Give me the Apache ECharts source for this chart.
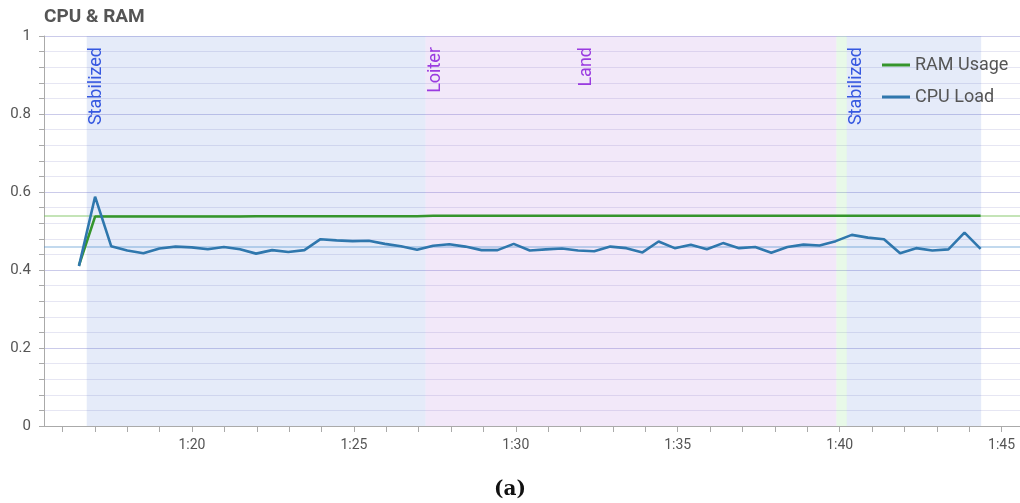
<!DOCTYPE html>
<html>
<head>
<meta charset="utf-8">
<script src="https://cdn.jsdelivr.net/npm/echarts@6/dist/echarts.min.js"></script>
<style>
  html, body { margin: 0; padding: 0; background: #ffffff; }
  #chart { width: 1020px; height: 503px; }
</style>
</head>
<body>
<div id="chart"></div>
<script>
// Samples: one every ~30 s, time in minutes of the log clock
const sampleStartMin = 76.51;
const sampleStepMin = 0.4972;

const cpuLoad = [
  0.41, 0.588, 0.461, 0.45, 0.443, 0.455, 0.46, 0.458, 0.453, 0.459,
  0.453, 0.442, 0.451, 0.446, 0.451, 0.479, 0.476, 0.474, 0.475, 0.467,
  0.461, 0.452, 0.462, 0.466, 0.46, 0.451, 0.451, 0.467, 0.45, 0.453,
  0.455, 0.45, 0.448, 0.46, 0.456, 0.445, 0.473, 0.456, 0.465, 0.453,
  0.469, 0.456, 0.459, 0.444, 0.459, 0.465, 0.463, 0.474, 0.49, 0.483,
  0.479, 0.443, 0.456, 0.45, 0.453, 0.496, 0.454
];

const ramUsage = [
  0.412, 0.537, 0.537, 0.537, 0.537, 0.537, 0.537, 0.537, 0.537, 0.537,
  0.537, 0.538, 0.538, 0.538, 0.538, 0.538, 0.538, 0.538, 0.538, 0.538,
  0.538, 0.538, 0.539, 0.539, 0.539, 0.539, 0.539, 0.539, 0.539, 0.539,
  0.539, 0.539, 0.539, 0.539, 0.539, 0.539, 0.539, 0.539, 0.539, 0.539,
  0.539, 0.539, 0.539, 0.539, 0.539, 0.539, 0.539, 0.539, 0.539, 0.539,
  0.539, 0.539, 0.539, 0.539, 0.539, 0.539, 0.539
];

// Flight-mode bands (minutes)
const bandModes = ['Stabilized', 'Loiter', 'Switch', 'Stabilized'];
const bandStarts = [76.75, 87.21, 99.9, 100.22];
const bandEnds = [87.21, 99.9, 100.22, 104.37];

// Mode-change events (minutes)
const eventNames = ['Stabilized', 'Loiter', 'Land', 'Stabilized'];
const eventTimes = [76.75, 87.21, 91.86, 100.22];

// Axis ticks
const xTickMinutes = [76, 77, 78, 79, 80, 81, 82, 83, 84, 85, 86, 87, 88, 89, 90,
  91, 92, 93, 94, 95, 96, 97, 98, 99, 100, 101, 102, 103, 104, 105];
const xLabelMinutes = [80, 85, 90, 95, 100, 105];
const xLabelTexts = ['1:20', '1:25', '1:30', '1:35', '1:40', '1:45'];
const xMin = 75.43;
const xMax = 105.57;

// ---- styles ----
const bandColors = {
  Stabilized: 'rgba(70,110,210,0.14)',
  Loiter: 'rgba(165,95,215,0.14)',
  Switch: 'rgba(90,210,90,0.14)'
};
const eventColors = {
  Stabilized: '#3658e0',
  Loiter: '#9a3be0',
  Land: '#9a3be0'
};
const font = 'Roboto, "Liberation Sans", Arial, sans-serif';
const lineIcon = 'path://M0,0L28,0L28,3L0,3Z';

const sampleTimes = cpuLoad.map((_, i) => sampleStartMin + i * sampleStepMin);
const cpuData = cpuLoad.map((v, i) => [sampleTimes[i], v]);
const ramData = ramUsage.map((v, i) => [sampleTimes[i], v]);

const bandAreas = bandModes.map((m, i) => [
  { xAxis: bandStarts[i], itemStyle: { color: bandColors[m] } },
  { xAxis: bandEnds[i] }
]);

const eventLines = eventNames.map((n, i) => ({
  xAxis: eventTimes[i],
  lineStyle: { color: 'rgba(0,0,0,0)', width: 1, type: 'solid' },
  label: {
    show: true,
    formatter: n,
    position: 'insideEndBottom',
    distance: [11, 1],
    color: eventColors[n],
    fontSize: 18,
    fontFamily: font
  }
}));

const chart = echarts.init(document.getElementById('chart'), null, { renderer: 'canvas' });

chart.setOption({
  animation: false,
  textStyle: { fontFamily: font },
  title: [
    {
      text: 'CPU & RAM',
      left: 39,
      top: 3,
      textStyle: { fontSize: 19, fontWeight: 'bold', color: '#555555', fontFamily: font }
    },
    {
      text: '(a)',
      left: 'center',
      top: 475,
      textStyle: { fontSize: 20, fontWeight: 'bold', color: '#111111', fontFamily: '"DejaVu Serif", "Liberation Serif", serif' }
    }
  ],
  legend: {
    data: [
      { name: 'RAM Usage', icon: lineIcon },
      { name: 'CPU Load', icon: lineIcon }
    ],
    orient: 'vertical',
    left: 882,
    top: 55,
    itemWidth: 28,
    itemHeight: 3,
    itemGap: 12,
    padding: 0,
    textStyle: { fontSize: 18, color: '#555555', fontFamily: font, lineHeight: 20 }
  },
  grid: { left: 44, right: 0, top: 36, bottom: 77, containLabel: false },
  xAxis: {
    type: 'value',
    min: xMin,
    max: xMax,
    axisLine: { show: true, lineStyle: { color: '#aaaaaa', width: 1 } },
    axisTick: {
      show: true,
      customValues: xTickMinutes,
      length: 6,
      lineStyle: { color: '#aaaaaa' }
    },
    axisLabel: {
      customValues: xLabelMinutes,
      formatter: (v) => xLabelTexts[xLabelMinutes.indexOf(Math.round(v))] || '',
      fontSize: 14,
      color: '#555555',
      margin: 12
    },
    splitLine: { show: false }
  },
  yAxis: {
    type: 'value',
    min: 0,
    max: 1,
    interval: 0.2,
    axisLine: { show: true, lineStyle: { color: '#aaaaaa', width: 1 } },
    axisTick: { show: true, length: 5, lineStyle: { color: '#aaaaaa' } },
    minorTick: { show: true, splitNumber: 5, length: 5, lineStyle: { color: '#aaaaaa' } },
    axisLabel: { fontSize: 15, color: '#555555', margin: 13 },
    splitLine: { show: true, lineStyle: { color: '#cbcbea', width: 1 } },
    minorSplitLine: { show: true, lineStyle: { color: '#e6e6f3', width: 1 } }
  },
  series: [
    {
      name: 'RAM Usage',
      type: 'line',
      data: ramData,
      symbol: 'none',
      smooth: false,
      lineStyle: { color: '#35952c', width: 2.6 },
      itemStyle: { color: '#35952c' },
      z: 3,
      markArea: {
        silent: true,
        z: 1,
        data: bandAreas
      },
      markLine: {
        silent: true,
        symbol: ['none', 'none'],
        z: 2,
        data: [
          { type: 'average', lineStyle: { color: 'rgba(125,195,95,0.45)', width: 2, type: 'solid' }, label: { show: false } }
        ]
      }
    },
    {
      name: 'CPU Load',
      type: 'line',
      data: cpuData,
      symbol: 'none',
      smooth: false,
      lineStyle: { color: '#2f77ad', width: 2.6 },
      itemStyle: { color: '#2f77ad' },
      z: 4,
      markLine: {
        silent: true,
        symbol: ['none', 'none'],
        z: 2,
        data: [
          { type: 'average', lineStyle: { color: 'rgba(80,145,205,0.35)', width: 2, type: 'solid' }, label: { show: false } }
        ].concat(eventLines)
      }
    }
  ]
});
</script>
</body>
</html>
